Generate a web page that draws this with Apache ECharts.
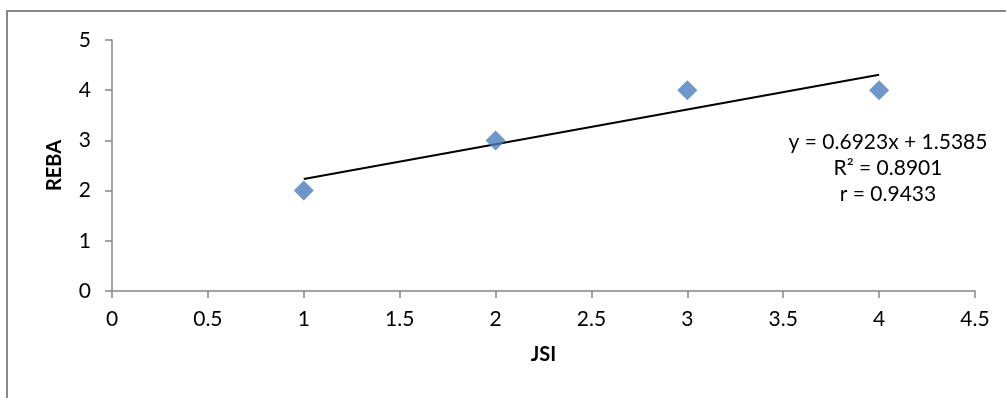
<!DOCTYPE html>
<html>
<head>
<meta charset="utf-8">
<script src="https://cdn.jsdelivr.net/npm/echarts@6/dist/echarts.min.js"></script>
<style>
  html, body { margin: 0; padding: 0; background: #fff; }
  #chart { width: 1006px; height: 398px; }
</style>
</head>
<body>
<div id="chart"></div>
<script>
// JSI vs REBA scores
const jsiValues = [1, 2, 3, 4];
const rebaValues = [2, 3, 4, 4];

// linear trend line end points
const trendX = [1, 4];
const trendY = [2.2308, 4.3077];

const equationLines = ['y = 0.6923x + 1.5385', 'R² = 0.8901', 'r = 0.9433'];

const fontFamily = 'Lato, "Noto Sans", sans-serif';
const axisColor = '#868686';

const chart = echarts.init(document.getElementById('chart'));

const option = {
	animation: false,
	grid: {
		left: 112,
		right: 31,
		top: 40,
		bottom: 107
	},
	xAxis: {
		type: 'value',
		min: 0,
		max: 4.5,
		interval: 0.5,
		name: 'JSI',
		nameLocation: 'middle',
		nameGap: 54,
		nameTextStyle: { color: '#000', fontFamily, fontSize: 20, fontWeight: 'bold' },
		axisLine: { show: true, lineStyle: { color: axisColor, width: 1.5 } },
		axisTick: { show: true, length: 7, lineStyle: { color: axisColor, width: 1.5 } },
		axisLabel: { color: '#000', fontFamily, fontSize: 21, margin: 18 },
		splitLine: { show: false }
	},
	yAxis: {
		type: 'value',
		min: 0,
		max: 5,
		interval: 1,
		name: 'REBA',
		nameLocation: 'middle',
		nameGap: 47,
		nameRotate: 90,
		nameTextStyle: { color: '#000', fontFamily, fontSize: 20, fontWeight: 'bold' },
		axisLine: { show: true, lineStyle: { color: axisColor, width: 1.5 } },
		axisTick: { show: true, length: 7, lineStyle: { color: axisColor, width: 1.5 } },
		axisLabel: { color: '#000', fontFamily, fontSize: 21, margin: 21 },
		splitLine: { show: false }
	},
	series: [
		{
			name: 'Trend',
			type: 'line',
			data: trendX.map((x, i) => [x, trendY[i]]),
			symbol: 'none',
			lineStyle: { color: '#000', width: 2 },
			z: 2
		},
		{
			name: 'REBA',
			type: 'scatter',
			data: jsiValues.map((x, i) => [x, rebaValues[i]]),
			symbol: 'diamond',
			symbolSize: 20,
			itemStyle: { color: '#4A7EBB' },
			z: 3
		}
	],
	graphic: [
		{
			type: 'rect',
			shape: { x: 7, y: 11, width: 1010, height: 400 },
			style: { fill: 'none', stroke: '#888888', lineWidth: 2 },
			silent: true
		},
		{
			type: 'text',
			x: 888,
			y: 129,
			style: {
				text: equationLines.join('\n'),
				fill: '#000',
				font: '21px ' + fontFamily,
				lineHeight: 26,
				align: 'center',
				verticalAlign: 'top'
			}
		}
	]
};

chart.setOption(option);
</script>
</body>
</html>
